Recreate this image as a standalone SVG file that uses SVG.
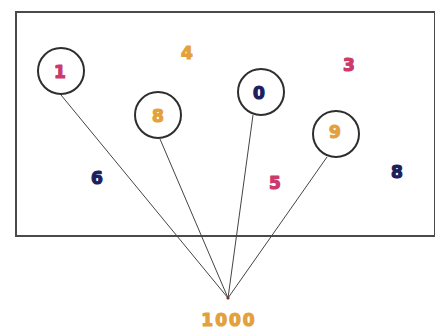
<svg xmlns="http://www.w3.org/2000/svg" width="435" height="329" viewBox="0 0 435 329">
<style>
.frame{fill:none;stroke:#4a4a4a;stroke-width:2}
.ring{fill:none;stroke:#2e2e2e;stroke-width:2}
.link{stroke:#444;stroke-width:1;fill:none}
.d{font-family:"DejaVu Sans","Liberation Sans",sans-serif;font-weight:bold;font-size:17px;text-anchor:middle;dominant-baseline:central;stroke-width:1.2;stroke-linejoin:round}
.pink{fill:#cc3a6c;stroke:#cc3a6c}
.orange{fill:#e3a13c;stroke:#e3a13c}
.navy{fill:#1e1e5c;stroke:#1e1e5c}
</style>
<rect width="435" height="329" fill="#ffffff"/>
<rect class="frame" x="16" y="12" width="419" height="224"/>
<g id="connectors">
<line class="link" x1="61" y1="95" x2="228" y2="298"/>
<line class="link" x1="160" y1="139" x2="228" y2="298"/>
<line class="link" x1="253" y1="115" x2="228" y2="298"/>
<line class="link" x1="327" y1="157" x2="228" y2="298"/>
<circle cx="228" cy="298" r="1.6" fill="#7a3020"/>
</g>
<g id="node-1"><circle class="ring" cx="61" cy="71" r="23"/><text class="d pink" x="60" y="72">1</text></g>
<g id="node-a"><circle class="ring" cx="158" cy="115" r="23"/><text class="d orange" x="158" y="116">8</text></g>
<g id="node-0"><circle class="ring" cx="261" cy="92" r="23"/><text class="d navy" x="259" y="93">0</text></g>
<g id="node-b"><circle class="ring" cx="336" cy="134" r="23"/><text class="d orange" x="335" y="132">9</text></g>
<g id="label-4"><text class="d orange" x="187" y="53">4</text></g>
<g id="label-3"><text class="d pink" x="349" y="65">3</text></g>
<g id="label-6"><text class="d navy" x="97" y="178">6</text></g>
<g id="label-5"><text class="d pink" x="275" y="183">5</text></g>
<g id="label-8"><text class="d navy" x="397" y="172">8</text></g>
<g id="label-total"><text class="d orange" x="229" y="320" letter-spacing="2">1000</text></g>
</svg>
